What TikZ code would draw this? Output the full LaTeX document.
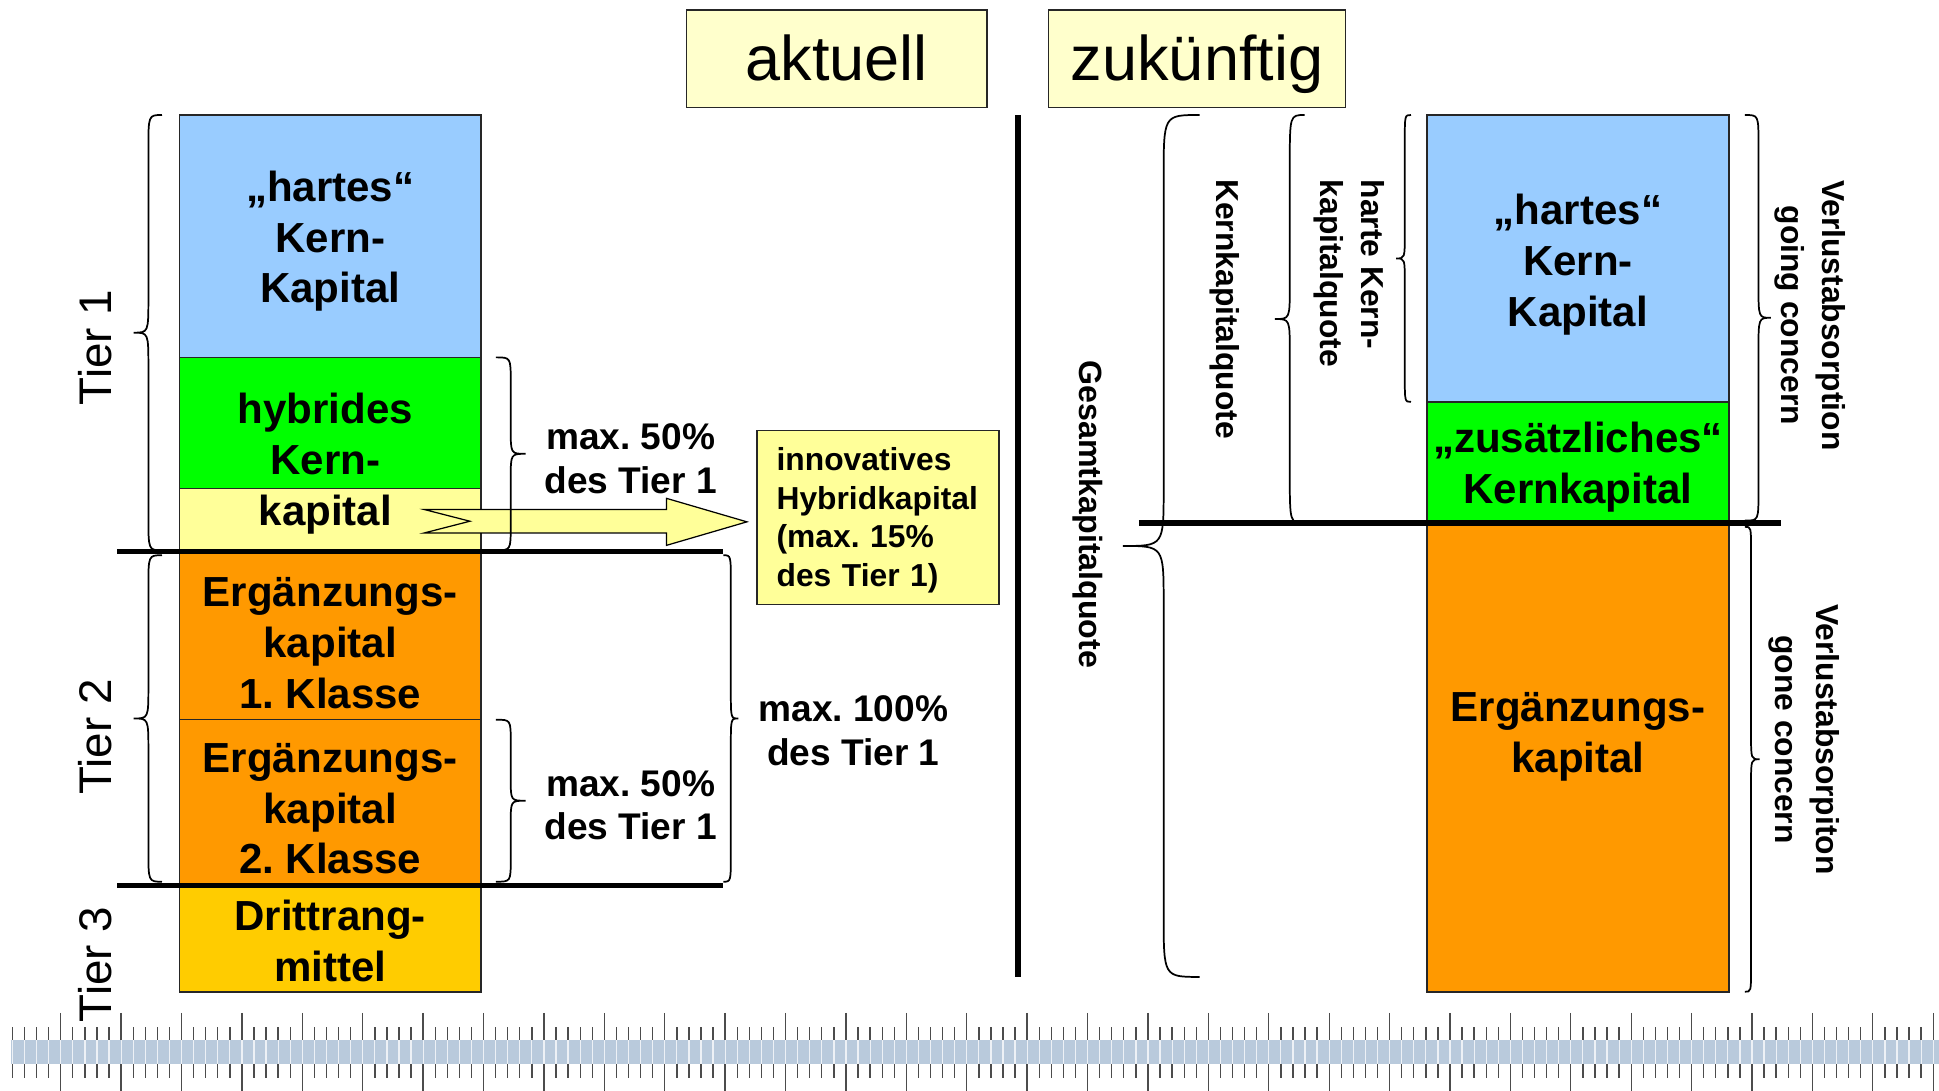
\documentclass[tikz,border=0pt]{standalone}
\usepackage{fontspec}
\setmainfont{Liberation Sans}
\frenchspacing
\definecolor{kblue}{HTML}{99CCFF}
\definecolor{kgreen}{HTML}{00FF00}
\definecolor{kyellow}{HTML}{FFFF99}
\definecolor{kpale}{HTML}{FFFFCC}
\definecolor{korange}{HTML}{FF9900}
\definecolor{kgold}{HTML}{FFCC00}
\definecolor{kband}{HTML}{B9CADC}
\newcommand{\kbrace}[7]{%
  \draw[bracel] (#1,#4) .. controls (#2,#4) .. (#2,#4+#6)
    -- (#2,{(#4+#5)/2-#7}) .. controls (#2,{(#4+#5)/2}) .. (#3,{(#4+#5)/2})
    .. controls (#2,{(#4+#5)/2}) .. (#2,{(#4+#5)/2+#7})
    -- (#2,#5-#6) .. controls (#2,#5) .. (#1,#5);}
\begin{document}
\begin{tikzpicture}[x=0.5pt,y=-0.5pt,
  cell/.style={draw=black!85, line width=0.6pt, anchor=north west, inner sep=0pt, outer sep=0pt},
  celltext/.style={font=\bfseries\fontsize{17}{20.5}\selectfont, align=center, inner sep=0pt},
  maxtext/.style={font=\bfseries\fontsize{15}{17.5}\selectfont, align=center, inner sep=0pt},
  tiertext/.style={font=\fontsize{18.5}{22}\selectfont, rotate=90, inner sep=0pt},
  sidetext/.style={font=\bfseries\fontsize{12.85}{16.5}\selectfont, rotate=-90, inner sep=0pt},
  titlebox/.style={draw=black!85, line width=0.6pt, fill=kpale, font=\fontsize{25.5}{30}\selectfont,
     minimum height=39.5pt, inner sep=0pt, text height=23.1pt, text depth=5.4pt},
  sepline/.style={line width=2.2pt, black},
  bracel/.style={line width=0.7pt, black},
  tick/.style={line width=0.55pt, black!70},
  blockarrow/.style={draw=black, line width=0.5pt, fill=kyellow},
]
\useasboundingbox (0,0) rectangle (1568,882);
\fill[white] (0,0) rectangle (1568,882);

% ---- titles
\node[titlebox, minimum width=121.5pt] (akt) at (676.5,47.5) {aktuell};
\node[titlebox, minimum width=120pt] (zuk) at (968,47.5) {zukünftig};

% ---- left column
\node[cell, fill=kblue, minimum width=122pt, minimum height=98pt] (lblue) at (145,93) {};
\node[cell, fill=kgreen, minimum width=122pt, minimum height=53pt] (lgreen) at (145,289) {};
\node[cell, fill=kyellow, minimum width=122pt, minimum height=25pt] (lyel) at (145,395) {};
\node[cell, fill=korange, minimum width=122pt, minimum height=68pt] (lor1) at (145,446) {};
\node[cell, fill=korange, minimum width=122pt, minimum height=66.5pt] (lor2) at (145,582) {};
\node[cell, fill=kgold, minimum width=122pt, minimum height=43pt] (ldr) at (145,716) {};

\node[celltext] (lhartes) at (267,195) {„hartes“\\Kern-\\Kapital};
\node[celltext] (lhybrid) at (263,375) {hybrides\\Kern-\\kapital};
\node[celltext] (lerg1) at (267,520) {Ergänzungs-\\kapital\\1. Klasse};
\node[celltext] (lerg2) at (267,654) {Ergänzungs-\\kapital\\2. Klasse};
\node[celltext] (ldritt) at (267,761) {Drittrang-\\mittel};

\node[maxtext] (max1) at (510,371) {max. 50\%\\des Tier 1};
\node[maxtext] (max2) at (510,651) {max. 50\%\\des Tier 1};
\node[maxtext] (max3) at (690,591) {max. 100\%\\des Tier 1};

\node[cell, fill=kyellow, minimum width=98pt, minimum height=70.5pt, text width=82pt,
      align=left, inner xsep=8pt, font=\bfseries\fontsize{12.85}{15.6}\selectfont]
      (innov) at (612,348) {\rule{0pt}{11.5pt}innovatives\\Hybridkapital\\(max. 15\%\\des Tier 1)};

% arrow
\draw[blockarrow] (343,412) -- (539,412) -- (539,403) -- (604,422) -- (539,441)
   -- (539,431) -- (343,431) -- (380,421.5) -- cycle;

% left braces
\kbrace{131}{120}{108}{93}{445}{28}{28}
\kbrace{131}{120}{108}{449}{713}{26}{26}
\kbrace{401}{413}{425}{289}{445}{20}{20}
\kbrace{401}{413}{425}{582}{713}{18}{18}
\kbrace{585}{591}{597}{449}{713}{23}{22}

% separator lines
\draw[sepline] (95,446) -- (585,446);
\draw[sepline] (95,716) -- (585,716);
\draw[line width=2.5pt] (823,93) -- (823,790);

% ---- right column
\node[cell, fill=kblue, minimum width=122pt, minimum height=116pt] (rblue) at (1154,93) {};
\node[cell, fill=kgreen, minimum width=122pt, minimum height=49pt] (rgreen) at (1154,325) {};
\node[cell, fill=korange, minimum width=122pt, minimum height=189.5pt] (ror) at (1154,423) {};

\node[celltext] (rhartes) at (1276,214) {„hartes“\\Kern-\\Kapital};
\node[celltext] (rzus) at (1276,378) {„zusätzliches“\\Kernkapital};
\node[celltext] (rerg) at (1276,596) {Ergänzungs-\\kapital};

\draw[sepline] (921,423) -- (1440,423);

% right braces
\kbrace{970}{941}{908}{93}{790}{50}{46}
\kbrace{1055}{1043}{1031}{93}{423}{40}{27}
\kbrace{1141}{1136}{1129}{93}{325}{21}{20}
\kbrace{1411}{1422}{1432}{93}{421}{23}{27}
\kbrace{1411}{1416}{1423}{426}{802}{19}{20}

\node[sidetext, font=\bfseries\fontsize{13}{16.5}\selectfont] (gesamt) at (880,416) {Gesamtkapitalquote};
\node[sidetext] (kernq) at (990,250) {Kernkapitalquote};
\node[sidetext, anchor=west, align=left] (harteq) at (1091,145) {harte Kern-\\kapitalquote};
\node[sidetext, align=center] (going) at (1463.5,255) {Verlustabsorption\\going concern};
\node[sidetext, align=center] (gone) at (1459,598) {Verlustabsorpiton\\gone concern};

% ---- ruler
\fill[kband] (9,841) rectangle (1568,860.4);
\foreach \k in {0,...,159} {
  \pgfmathsetmacro\xx{10.03+9.769*\k}
  \pgfmathtruncatemacro\m{mod(\k,5)}
  \draw[white, line width=0.5pt, opacity=0.75] (\xx,841) -- (\xx,860.4);
  \ifnum\m=4
    \draw[tick] (\xx,819) -- (\xx,841) (\xx,860.4) -- (\xx,882);
  \else
    \draw[tick] (\xx,830.5) -- (\xx,841) (\xx,860.4) -- (\xx,871.7);
  \fi
}

% ---- tier labels
\node[tiertext] (tier1) at (77,281) {Tier 1};
\node[tiertext] (tier2) at (77,596) {Tier 2};
\node[tiertext] (tier3) at (77,780) {Tier 3};
\end{tikzpicture}
\end{document}
